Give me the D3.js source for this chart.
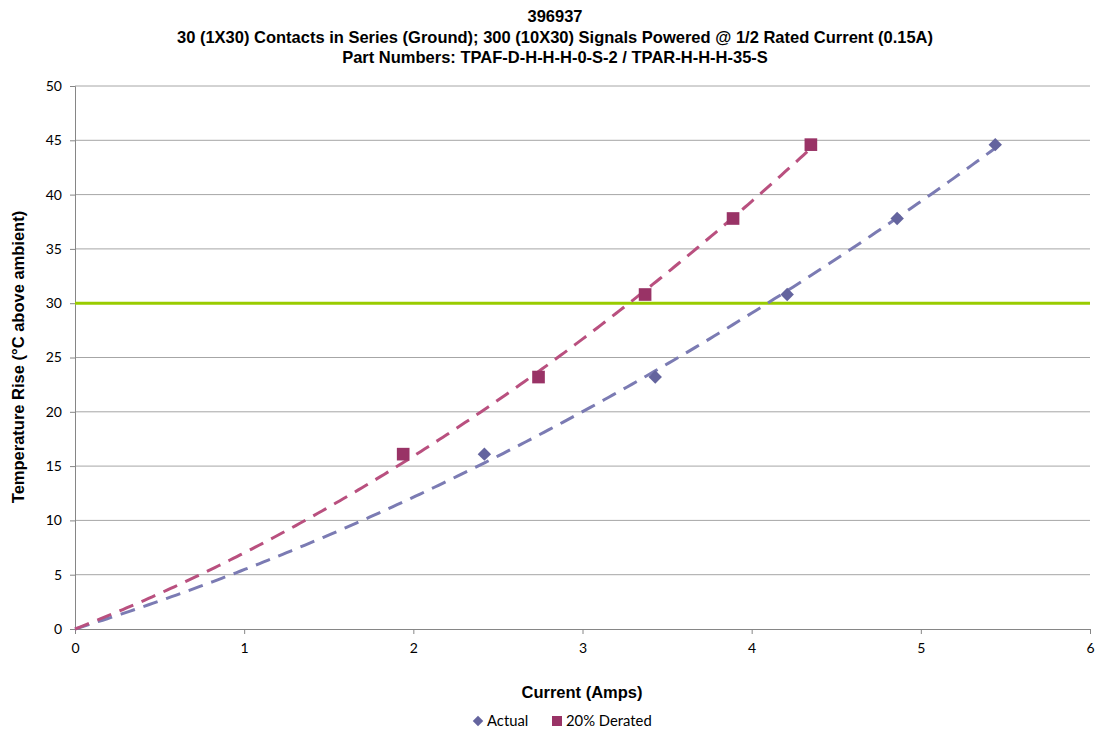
<!DOCTYPE html>
<html>
<head>
<meta charset="utf-8">
<script src="https://cdn.jsdelivr.net/npm/d3@7"></script>
<style>
  body { margin: 0; background: #fff; }
  .bold { font-family: "Liberation Sans", Arial, sans-serif; font-weight: bold; fill: #000; }
  .tick text { font-family: Lato, "Open Sans", sans-serif; font-size: 14px; fill: #000; }
</style>
</head>
<body>
<div id="chart"></div>
<script>
const titleLines = [
  "396937",
  "30 (1X30) Contacts in Series (Ground); 300 (10X30) Signals Powered @ 1/2 Rated Current (0.15A)",
  "Part Numbers: TPAF-D-H-H-H-0-S-2 / TPAR-H-H-H-35-S"
];
const actualCurrent = [2.42, 3.43, 4.21, 4.86, 5.44];
const actualRise = [16.1, 23.2, 30.8, 37.8, 44.6];
const deratedCurrent = [1.94, 2.74, 3.37, 3.89, 4.35];
const deratedRise = [16.1, 23.2, 30.8, 37.8, 44.6];
const limitRise = 30;
const xTicks = [0, 1, 2, 3, 4, 5, 6];
const yTicks = [0, 5, 10, 15, 20, 25, 30, 35, 40, 45, 50];

const width = 1098, height = 731;
const margin = {top: 86, right: 8, bottom: 102, left: 75};
const w = width - margin.left - margin.right;
const h = height - margin.top - margin.bottom;

const svg = d3.select("#chart").append("svg")
  .attr("width", width).attr("height", height);

const g = svg.append("g").attr("transform", `translate(${margin.left},${margin.top})`);

const x = d3.scaleLinear().domain([0, 6]).range([0, w]);
const y = d3.scaleLinear().domain([0, 50]).range([h, 0]);

// gridlines
g.append("g").selectAll("line").data(yTicks.filter(d => d > 0)).join("line")
  .attr("x1", 0).attr("x2", w)
  .attr("y1", d => y(d)).attr("y2", d => y(d))
  .attr("stroke", "#a6a6a6").attr("stroke-width", 1);

// axes
const xAxis = g.append("g").attr("transform", `translate(0,${h})`)
  .call(d3.axisBottom(x).tickValues(xTicks).tickSize(5).tickPadding(9).tickFormat(d3.format("d")));
const yAxis = g.append("g")
  .call(d3.axisLeft(y).tickValues(yTicks).tickSize(5).tickPadding(8).tickFormat(d3.format("d")));
[xAxis, yAxis].forEach(a => {
  a.select(".domain").attr("stroke", "#868686");
  a.selectAll(".tick line").attr("stroke", "#868686");
});

// limit line
g.append("line")
  .attr("x1", 0).attr("x2", w)
  .attr("y1", y(limitRise)).attr("y2", y(limitRise))
  .attr("stroke", "#99cc00").attr("stroke-width", 3);

// 2nd order polynomial trendline, intercept fixed at 0 (least squares)
function polyFit0(xs, ys) {
  const s = k => d3.sum(xs, v => v ** k);
  const t = k => d3.sum(xs, (v, i) => v ** k * ys[i]);
  const det = s(2) * s(4) - s(3) * s(3);
  const a = (t(1) * s(4) - s(3) * t(2)) / det;
  const b = (s(2) * t(2) - s(3) * t(1)) / det;
  return v => a * v + b * v * v;
}

const series = [
  {xs: actualCurrent, ys: actualRise, mark: "#64649e", trend: "#7b7bb3", size: 90, rot: 45},
  {xs: deratedCurrent, ys: deratedRise, mark: "#993366", trend: "#b9507f", size: 160, rot: 0}
];

const line = d3.line().x(d => x(d[0])).y(d => y(d[1]));

series.forEach(s => {
  const f = polyFit0(s.xs, s.ys);
  const xmax = d3.max(s.xs);
  const pts = d3.range(0, 201).map(i => {
    const t = xmax * i / 200;
    return [t, f(t)];
  });
  g.append("path").datum(pts)
    .attr("d", line)
    .attr("fill", "none")
    .attr("stroke", s.trend)
    .attr("stroke-width", 3)
    .attr("stroke-dasharray", "15,9");
});

series.forEach(s => {
  g.append("g").selectAll("path").data(s.xs.map((v, i) => [v, s.ys[i]])).join("path")
    .attr("transform", d => `translate(${x(d[0])},${y(d[1])}) rotate(${s.rot})`)
    .attr("d", d3.symbol().type(d3.symbolSquare).size(s.size))
    .attr("fill", s.mark);
});

// titles
svg.append("g").selectAll("text").data(titleLines).join("text")
  .attr("class", "bold")
  .attr("x", 555).attr("y", (d, i) => 22 + i * 20.5)
  .attr("text-anchor", "middle")
  .style("font-size", "16.5px")
  .text(d => d);

svg.append("text")
  .attr("class", "bold")
  .attr("x", 582).attr("y", 698)
  .attr("text-anchor", "middle")
  .style("font-size", "16.5px")
  .text("Current (Amps)");

svg.append("text")
  .attr("class", "bold")
  .attr("transform", "translate(24,357) rotate(-90)")
  .attr("text-anchor", "middle")
  .style("font-size", "16.5px")
  .text("Temperature Rise (°C above ambient)");

// legend
const legend = svg.append("g").attr("transform", "translate(0,721)");
const legendItems = [
  {label: "Actual", color: "#64649e", size: 55, rot: 45, x: 478},
  {label: "20% Derated", color: "#993366", size: 100, rot: 0, x: 557}
];
legendItems.forEach(it => {
  legend.append("path")
    .attr("transform", `translate(${it.x},0) rotate(${it.rot})`)
    .attr("d", d3.symbol().type(d3.symbolSquare).size(it.size))
    .attr("fill", it.color);
  legend.append("text")
    .attr("x", it.x + 9).attr("y", 5)
    .style("font-family", "Lato, 'Open Sans', sans-serif")
    .style("font-size", "14.8px")
    .text(it.label);
});
</script>
</body>
</html>
